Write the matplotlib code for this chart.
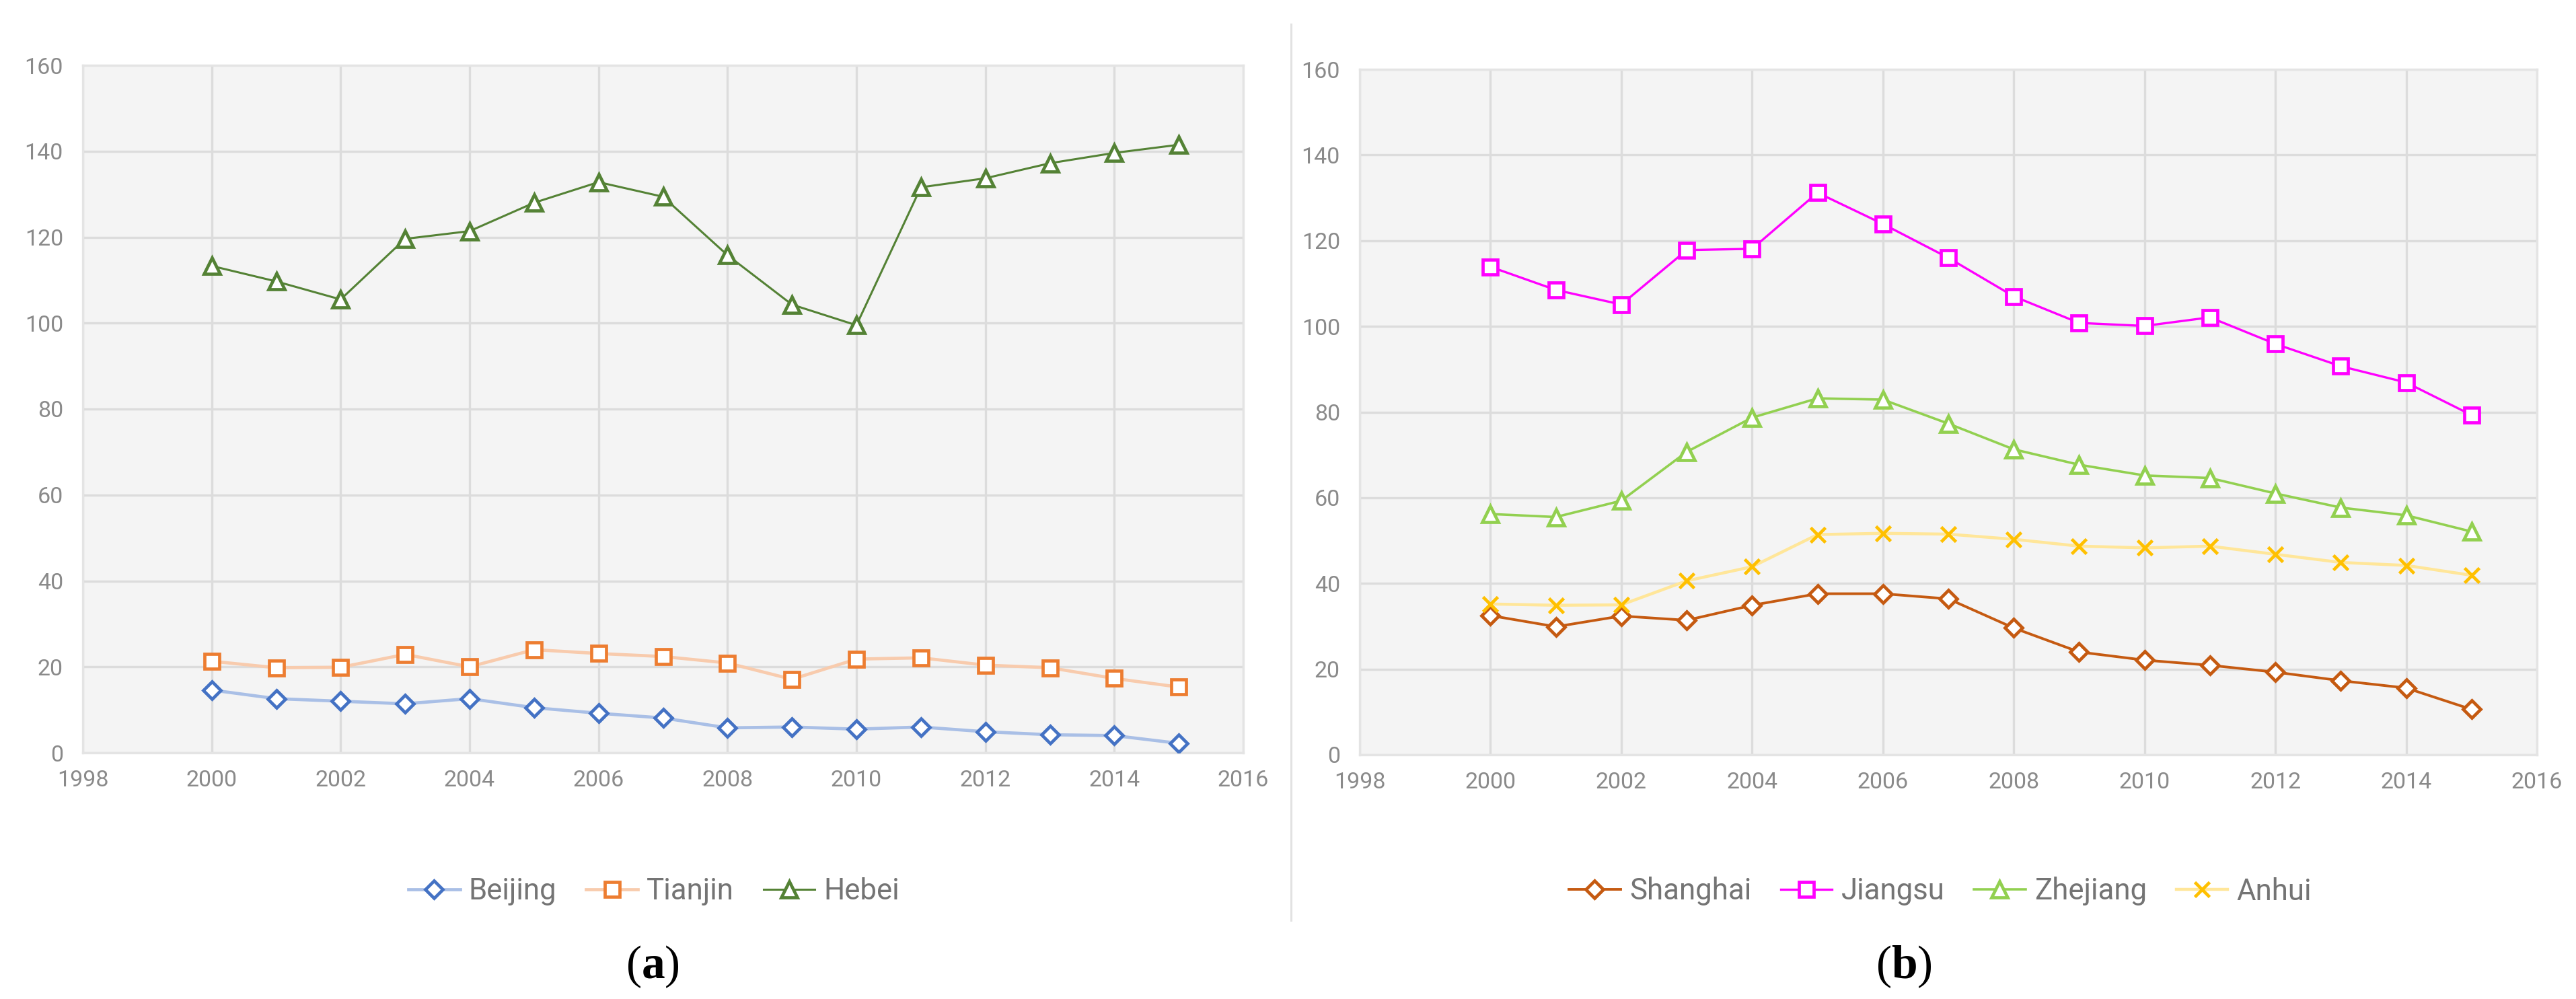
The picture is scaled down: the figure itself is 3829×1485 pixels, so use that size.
import matplotlib
matplotlib.use("Agg")
import matplotlib.pyplot as plt
from matplotlib.lines import Line2D

years = list(range(2000, 2016))

beijing = [14.6, 12.6, 12.0, 11.4, 12.6, 10.5, 9.2, 8.1, 5.8, 6.0, 5.5, 6.0, 4.9, 4.2, 4.0, 2.2]
tianjin = [21.3, 19.8, 19.9, 22.9, 20.0, 24.0, 23.1, 22.4, 20.9, 17.1, 21.8, 22.1, 20.4, 19.8, 17.3, 15.3]
hebei = [113.3, 109.7, 105.5, 119.6, 121.4, 128.0, 132.8, 129.4, 115.8, 104.3, 99.5, 131.6, 133.7, 137.2, 139.6, 141.5]

shanghai = [32.5, 29.9, 32.4, 31.4, 34.9, 37.6, 37.6, 36.4, 29.6, 24.0, 22.1, 20.9, 19.3, 17.3, 15.6, 10.6]
jiangsu = [113.9, 108.5, 105.1, 117.8, 118.1, 131.2, 123.9, 116.0, 107.0, 100.8, 100.1, 102.1, 95.9, 90.7, 86.9, 79.3]
zhejiang = [56.2, 55.5, 59.3, 70.7, 78.7, 83.2, 82.9, 77.3, 71.3, 67.7, 65.2, 64.6, 61.0, 57.7, 55.9, 52.1]
anhui = [35.2, 34.9, 35.0, 40.6, 43.9, 51.4, 51.7, 51.5, 50.3, 48.7, 48.3, 48.7, 46.8, 44.9, 44.2, 41.9]

xticks = list(range(1998, 2017, 2))
yticks = list(range(0, 161, 20))

W, H = 3829, 1485
DPI = 100
fig = plt.figure(figsize=(W / DPI, H / DPI), dpi=DPI)
fig.patch.set_facecolor("white")

TICK_FONT = "Roboto"
TICK_COLOR = "#8a8a8a"
LEG_COLOR = "#747474"
GRID_COLOR = "#dcdcdc"


def px_rect(x0, y0, x1, y1):
    return [x0 / W, 1 - y1 / H, (x1 - x0) / W, (y1 - y0) / H]


def style_ax(ax):
    ax.set_facecolor("#f4f4f4")
    ax.set_xlim(1998, 2016)
    ax.set_ylim(0, 160)
    ax.set_xticks(xticks)
    ax.set_yticks(yticks)
    ax.set_xticklabels([str(t) for t in xticks])
    ax.set_yticklabels([str(t) for t in yticks])
    ax.grid(True, color=GRID_COLOR, linewidth=2.4)
    ax.set_axisbelow(True)
    ax.tick_params(axis="both", length=0, labelsize=24.5, labelcolor=TICK_COLOR)
    ax.tick_params(axis="y", pad=21)
    ax.tick_params(axis="x", pad=18)
    for lab in ax.get_xticklabels() + ax.get_yticklabels():
        lab.set_fontfamily(TICK_FONT)
    for sp in ax.spines.values():
        sp.set_color("#e4e4e4")
        sp.set_linewidth(2.4)


def series(ax, y, line_color, mk, mk_color, lw, ms, label, mew=3.4):
    ax.plot(years, y, color=line_color, linewidth=lw, marker=mk, markersize=ms,
            markerfacecolor="white", markeredgecolor=mk_color, markeredgewidth=mew,
            label=label, zorder=3)
    return Line2D([0], [0], color=line_color, linewidth=lw, marker=mk, markersize=ms,
                  markerfacecolor="white", markeredgecolor=mk_color, markeredgewidth=mew)


# Left panel
axL = fig.add_axes(px_rect(123, 97, 1848, 1119))
style_ax(axL)
hL = [
    series(axL, beijing, "#a9bfe6", "D", "#4472c4", 3.4, 13.5, "Beijing"),
    series(axL, tianjin, "#f8cbad", "s", "#ed7d31", 3.4, 15.5, "Tianjin"),
    series(axL, hebei, "#548235", "^", "#548235", 2.2, 17, "Hebei"),
]

# Right panel
axR = fig.add_axes(px_rect(2021, 103, 3771, 1122))
style_ax(axR)
hR = [
    series(axR, shanghai, "#c55a11", "D", "#c55a11", 2.8, 13.5, "Shanghai"),
    series(axR, jiangsu, "#ff00ff", "s", "#ff00ff", 2.4, 15.5, "Jiangsu"),
    series(axR, zhejiang, "#92d050", "^", "#92d050", 2.6, 17, "Zhejiang"),
    series(axR, anhui, "#ffe699", "x", "#ffc000", 3.2, 16, "Anhui", mew=3.4),
]

leg_kw = dict(loc="center", ncol=4, frameon=False, handlelength=1.75,
              handletextpad=0.3, columnspacing=1.0,
              prop={"family": TICK_FONT, "size": 31.5})

legL = fig.legend(hL, ["Beijing", "Tianjin", "Hebei"],
                  bbox_to_anchor=(972 / W, 1 - 1325 / H), **leg_kw)
legR = fig.legend(hR, ["Shanghai", "Jiangsu", "Zhejiang", "Anhui"],
                  bbox_to_anchor=(2884 / W, 1 - 1325 / H), **leg_kw)
for lg in (legL, legR):
    for t in lg.get_texts():
        t.set_color(LEG_COLOR)

# Divider line
fig.add_artist(Line2D([1919 / W, 1919 / W], [1 - 36 / H, 1 - 1368 / H],
                      color="#e2e2e2", linewidth=2.2, transform=fig.transFigure))

# Captions
plt.rcParams["mathtext.fontset"] = "custom"
plt.rcParams["mathtext.bf"] = "Liberation Serif:bold"
plt.rcParams["mathtext.rm"] = "Liberation Serif"
for cx, letter in ((970, "a"), (2830, "b")):
    fig.text(cx / W, 1 - 1437 / H, r"($\mathbf{" + letter + r"}$)",
             ha="center", va="center", fontsize=50, family="Liberation Serif",
             color="black")

fig.savefig("out.png", dpi=DPI, facecolor="white")
